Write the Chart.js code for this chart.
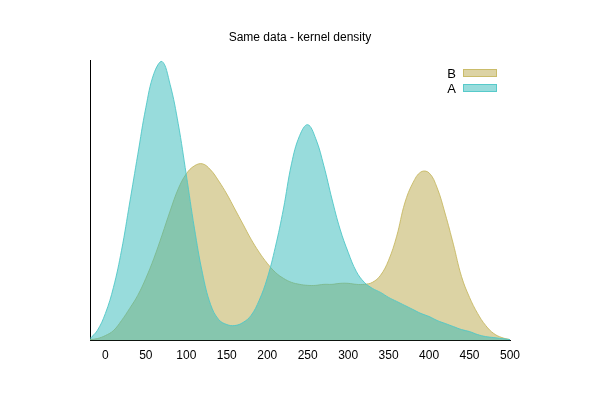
<!DOCTYPE html>
<html lang="en">
  <head>
    <meta charset="UTF-8" />
    <title>Same data - kernel density</title>
    <style>
      body { margin: 0; background: #fff; }
      #chart { display: block; }
    </style>
  </head>
  <body>
    <canvas id="chart" width="600" height="400"></canvas>
    <script src="https://cdn.jsdelivr.net/npm/chart.js@4/dist/chart.umd.min.js"></script>
    <script>
var xs = [-19, -10, 0, 10, 20, 30, 40, 50, 60, 70, 80, 90, 100, 110, 120, 130, 140, 150,
  160, 170, 180, 190, 200, 210, 220, 230, 240, 250, 260, 270, 280, 290, 300, 310, 320,
  330, 340, 350, 360, 370, 380, 390, 400, 410, 420, 430, 440, 450, 460, 470, 480, 490, 500];

// density of A (relative units, no y ticks shown)
var densA = [2, 10, 27, 53, 90, 137, 185, 232, 266, 278, 255, 216, 165, 112, 67, 36, 21, 16,
  15, 18, 25, 40, 62, 93, 131, 176, 204, 215, 201, 174, 141, 111, 88, 69, 58,
  52, 48, 43, 39, 35, 31, 27, 24, 20, 17, 14, 11, 9, 6, 4, 3, 2, 1];

// density of B
var densB = [1, 2, 5, 10, 20, 32, 45, 62, 82, 105, 129, 151, 166, 174, 176, 170, 159, 146,
  131, 116, 101, 88, 77, 68, 62, 58, 56, 55, 55, 56, 56, 57, 57, 56, 56,
  58, 65, 80, 104, 137, 157, 168, 167, 152, 126, 96, 64, 43, 27, 15, 7, 3, 1];

var xTicks = [0, 50, 100, 150, 200, 250, 300, 350, 400, 450, 500];

var colA = 'rgba(49, 185, 185, 0.5)';
var lineA = 'rgba(80, 200, 200, 0.9)';
var colB = 'rgba(185, 168, 74, 0.5)';
var lineB = 'rgba(200, 185, 100, 0.9)';

function pts(ys) {
  return xs.map(function (x, i) { return { x: x, y: ys[i] }; });
}

// legend with the swatch after the label, as in the original
var sideLegend = {
  id: 'sideLegend',
  afterDraw: function (chart) {
    var ctx = chart.ctx;
    var items = [['B', colB, lineB], ['A', colA, lineA]];
    ctx.save();
    ctx.font = '13px "Liberation Sans", Arial, sans-serif';
    ctx.textAlign = 'right';
    ctx.textBaseline = 'middle';
    items.forEach(function (it, i) {
      var y = 73 + i * 15;
      ctx.fillStyle = '#000';
      ctx.fillText(it[0], 456, y + 1);
      ctx.fillStyle = '#fff';
      ctx.fillRect(463, y - 4, 34, 8);
      ctx.fillStyle = it[1];
      ctx.fillRect(463, y - 4, 34, 8);
      ctx.strokeStyle = it[2];
      ctx.lineWidth = 1;
      ctx.strokeRect(463.5, y - 3.5, 33, 7);
    });
    ctx.restore();
  }
};

var ctx = document.getElementById('chart').getContext('2d');

var chart = new Chart(ctx, {
  type: 'line',
  data: {
    datasets: [{
      label: 'A',
      data: pts(densA),
      backgroundColor: colA,
      borderColor: lineA,
      borderWidth: 1,
      fill: 'origin',
      pointRadius: 0,
      tension: 0.4
    },
    {
      label: 'B',
      data: pts(densB),
      backgroundColor: colB,
      borderColor: lineB,
      borderWidth: 1,
      fill: 'origin',
      pointRadius: 0,
      tension: 0.4
    }]
  },
  options: {
    responsive: false,
    animation: false,
    layout: {
      padding: { left: 90, right: 90, top: 0, bottom: 29 }
    },
    plugins: {
      legend: { display: false },
      tooltip: { enabled: false },
      title: {
        display: true,
        text: 'Same data - kernel density',
        color: '#000',
        font: { family: '"Liberation Sans", Arial, sans-serif', size: 12, weight: 'normal' },
        padding: { top: 30, bottom: 16 }
      }
    },
    scales: {
      x: {
        type: 'linear',
        min: -19,
        max: 500,
        afterBuildTicks: function (axis) {
          axis.ticks = xTicks.map(function (v) { return { value: v }; });
        },
        grid: { display: false, drawTicks: false },
        border: { display: true, color: '#000', width: 1 },
        ticks: {
          color: '#000',
          padding: 8,
          maxRotation: 0,
          font: { family: '"Liberation Sans", Arial, sans-serif', size: 12 }
        }
      },
      y: {
        min: 0,
        max: 279,
        grid: { display: false, drawTicks: false },
        border: { display: true, color: '#000', width: 1 },
        ticks: { display: false }
      }
    }
  },
  plugins: [sideLegend]
});
</script>
  </body>
</html>
